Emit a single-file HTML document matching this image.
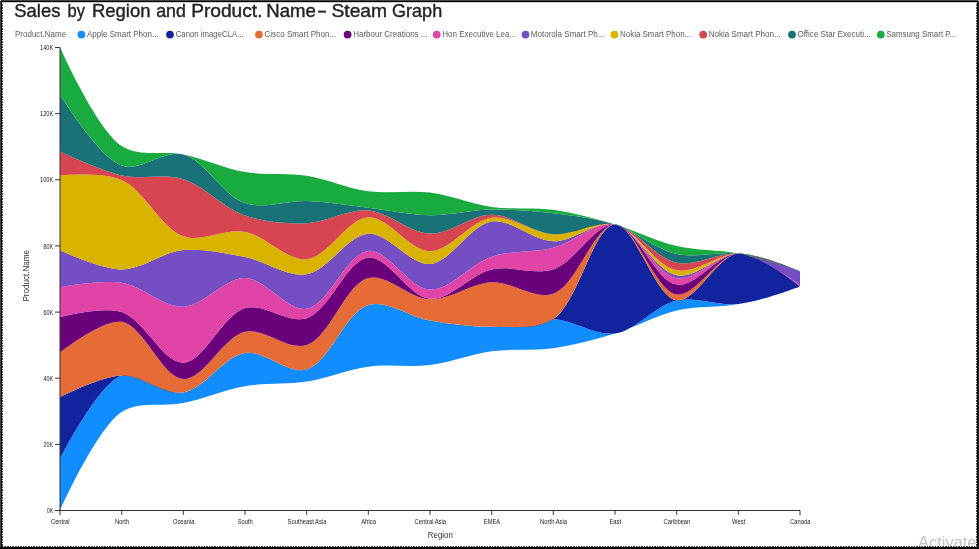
<!DOCTYPE html>
<html lang="en"><head><meta charset="utf-8"><title>Sales by Region and Product. Name- Steam Graph</title>
<style>
html,body{margin:0;padding:0;background:#fff;}
body{width:979px;height:549px;overflow:hidden;position:relative;font-family:"Liberation Sans",sans-serif;}
svg{position:absolute;left:0;top:0;display:block;}
.tt{font-family:"Liberation Sans",sans-serif;font-size:19px;fill:#252423;stroke:#252423;stroke-width:0.42px;}
.lg{font-family:"Liberation Sans",sans-serif;font-size:9.3px;fill:#5c5a58;}
.tk{font-family:"Liberation Sans",sans-serif;font-size:7px;fill:#222;}
.ax{font-family:"Liberation Sans",sans-serif;font-size:9.3px;fill:#333;}
.wm{font-family:"Liberation Sans",sans-serif;font-size:16px;fill:#c4c4c4;}
.b{position:absolute;}
</style></head><body>
<svg width="979" height="549" viewBox="0 0 979 549">
<g id="title">
<text y="16.6" class="tt"> <tspan x="14.2" textLength="46.2" lengthAdjust="spacingAndGlyphs">Sales</tspan> <tspan x="67.6" textLength="17.4" lengthAdjust="spacingAndGlyphs">by</tspan> <tspan x="91.9" textLength="58.6" lengthAdjust="spacingAndGlyphs">Region</tspan> <tspan x="156.2" textLength="29.7" lengthAdjust="spacingAndGlyphs">and</tspan> <tspan x="191.2" textLength="71.3" lengthAdjust="spacingAndGlyphs">Product.</tspan> <tspan x="266.3" textLength="49.6" lengthAdjust="spacingAndGlyphs">Name</tspan><tspan x="317.0" textLength="10.1" lengthAdjust="spacingAndGlyphs">-</tspan> <tspan x="331.4" textLength="55.8" lengthAdjust="spacingAndGlyphs">Steam</tspan> <tspan x="392.0" textLength="50.2" lengthAdjust="spacingAndGlyphs">Graph</tspan> </text>
</g>
<g id="legend">
<text x="15" y="37" textLength="51.2" lengthAdjust="spacingAndGlyphs" class="lg">Product.Name</text>
<circle cx="81.4" cy="34.6" r="3.9" fill="#118DFF"/>
<text x="86.9" y="37" textLength="71.8" lengthAdjust="spacingAndGlyphs" class="lg">Apple Smart Phon...</text>
<circle cx="170.0" cy="34.6" r="3.9" fill="#12239E"/>
<text x="175.7" y="37" textLength="68.0" lengthAdjust="spacingAndGlyphs" class="lg">Canon imageCLA...</text>
<circle cx="259.0" cy="34.6" r="3.9" fill="#E66C37"/>
<text x="264.5" y="37" textLength="71.7" lengthAdjust="spacingAndGlyphs" class="lg">Cisco Smart Phon...</text>
<circle cx="347.6" cy="34.6" r="3.9" fill="#6B007B"/>
<text x="353.2" y="37" textLength="74.3" lengthAdjust="spacingAndGlyphs" class="lg">Harbour Creations ...</text>
<circle cx="436.7" cy="34.6" r="3.9" fill="#E044A7"/>
<text x="442.2" y="37" textLength="74.0" lengthAdjust="spacingAndGlyphs" class="lg">Hon Executive Lea...</text>
<circle cx="525.5" cy="34.6" r="3.9" fill="#744EC2"/>
<text x="530.8" y="37" textLength="73.7" lengthAdjust="spacingAndGlyphs" class="lg">Motorola Smart Ph...</text>
<circle cx="614.4" cy="34.6" r="3.9" fill="#D9B300"/>
<text x="620.0" y="37" textLength="71.2" lengthAdjust="spacingAndGlyphs" class="lg">Nokia Smart Phon...</text>
<circle cx="703.2" cy="34.6" r="3.9" fill="#D64550"/>
<text x="708.8" y="37" textLength="71.9" lengthAdjust="spacingAndGlyphs" class="lg">Nokia Smart Phon...</text>
<circle cx="792.0" cy="34.6" r="3.9" fill="#197278"/>
<text x="797.5" y="37" textLength="73.2" lengthAdjust="spacingAndGlyphs" class="lg">Office Star Executi...</text>
<circle cx="880.8" cy="34.6" r="3.9" fill="#1AAB40"/>
<text x="886.3" y="37" textLength="69.9" lengthAdjust="spacingAndGlyphs" class="lg">Samsung Smart P...</text>
</g>
<g id="stream">
<path fill="#118DFF" d="M60.00,459.10C60.00,459.10,97.95,383.71,121.67,375.50C140.28,369.06,163.42,395.50,183.33,392.50C204.63,389.29,223.69,356.41,245.00,353.10C264.90,350.00,287.56,374.86,306.67,369.50C329.25,363.16,345.73,311.61,368.34,305.10C387.43,299.60,409.31,317.00,430.00,320.60C450.43,324.16,471.13,326.96,491.67,326.70C512.24,326.44,532.88,317.91,553.34,319.00C573.99,320.10,594.93,336.12,615.00,333.50C636.09,330.75,655.44,305.29,676.67,300.60C696.63,296.19,717.97,306.28,738.34,304.00C759.09,301.68,800.00,286.40,800.00,286.40L800.00,286.40C800.00,286.40,759.07,300.00,738.34,304.00C717.95,307.94,696.93,305.64,676.67,310.40C655.80,315.31,635.76,327.17,615.00,333.50C594.64,339.71,574.03,345.26,553.34,348.20C532.91,351.11,512.11,348.44,491.67,351.20C470.99,354.00,450.68,362.43,430.00,365.00C409.57,367.54,388.75,363.98,368.34,366.70C347.63,369.46,327.36,378.35,306.67,381.60C286.24,384.81,265.39,382.68,245.00,386.20C224.27,389.78,204.02,398.79,183.33,403.10C162.91,407.36,139.90,400.13,121.67,412.00C96.77,428.22,60.00,510.50,60.00,510.50Z"/>
<path fill="#12239E" d="M60.00,397.10C60.00,397.10,101.00,376.20,121.67,375.50C142.11,374.81,163.42,395.50,183.33,392.50C204.63,389.29,223.69,356.41,245.00,353.10C264.90,350.00,287.56,374.86,306.67,369.50C329.25,363.16,345.73,311.61,368.34,305.10C387.43,299.60,409.31,317.00,430.00,320.60C450.43,324.16,471.13,326.96,491.67,326.70C512.24,326.44,535.04,330.43,553.34,319.00C577.99,303.60,593.65,225.62,615.00,224.50C634.87,223.46,654.77,297.66,676.67,300.30C696.16,302.65,717.23,255.29,738.34,253.60C758.39,252.00,800.00,286.40,800.00,286.40L800.00,286.40C800.00,286.40,759.09,301.68,738.34,304.00C717.97,306.28,696.63,296.19,676.67,300.60C655.44,305.29,636.09,330.75,615.00,333.50C594.93,336.12,573.99,320.10,553.34,319.00C532.88,317.91,512.24,326.44,491.67,326.70C471.13,326.96,450.43,324.16,430.00,320.60C409.31,317.00,387.43,299.60,368.34,305.10C345.73,311.61,329.25,363.16,306.67,369.50C287.56,374.86,264.90,350.00,245.00,353.10C223.69,356.41,204.63,389.29,183.33,392.50C163.42,395.50,140.28,369.06,121.67,375.50C97.95,383.71,60.00,459.10,60.00,459.10Z"/>
<path fill="#E66C37" d="M60.00,352.40C60.00,352.40,102.05,318.95,121.67,321.80C143.36,324.95,162.36,378.12,183.33,379.10C203.50,380.04,223.25,336.58,245.00,331.70C264.59,327.31,287.68,351.12,306.67,345.10C329.49,337.87,345.75,283.71,368.34,278.00C387.44,273.17,409.35,298.66,430.00,299.30C450.46,299.94,471.01,283.07,491.67,282.20C512.12,281.33,534.43,300.25,553.34,293.80C576.33,285.95,594.48,224.45,615.00,224.50C635.59,224.55,654.78,291.60,676.67,294.50C696.17,297.08,717.48,254.61,738.34,253.60C758.60,252.62,800.00,286.40,800.00,286.40L800.00,286.40C800.00,286.40,758.39,252.00,738.34,253.60C717.23,255.29,696.16,302.65,676.67,300.30C654.77,297.66,634.87,223.46,615.00,224.50C593.65,225.62,577.99,303.60,553.34,319.00C535.04,330.43,512.24,326.44,491.67,326.70C471.13,326.96,450.43,324.16,430.00,320.60C409.31,317.00,387.43,299.60,368.34,305.10C345.73,311.61,329.25,363.16,306.67,369.50C287.56,374.86,264.90,350.00,245.00,353.10C223.69,356.41,204.63,389.29,183.33,392.50C163.42,395.50,142.11,374.81,121.67,375.50C101.00,376.20,60.00,397.10,60.00,397.10Z"/>
<path fill="#6B007B" d="M60.00,317.20C60.00,317.20,102.26,306.05,121.67,312.10C143.70,318.97,162.94,363.08,183.33,362.70C204.06,362.31,222.82,314.49,245.00,308.10C264.32,302.54,287.53,324.36,306.67,318.30C329.19,311.17,346.92,259.62,368.34,257.60C388.16,255.73,409.01,297.28,430.00,298.80C450.15,300.25,470.56,274.21,491.67,269.40C511.72,264.83,533.76,275.59,553.34,269.20C575.10,262.10,595.04,223.05,615.00,224.50C636.23,226.04,654.85,281.23,676.67,284.60C696.21,287.62,717.84,253.36,738.34,253.60C758.95,253.84,800.00,286.40,800.00,286.40L800.00,286.40C800.00,286.40,758.60,252.62,738.34,253.60C717.48,254.61,696.17,297.08,676.67,294.50C654.78,291.60,635.59,224.55,615.00,224.50C594.48,224.45,576.33,285.95,553.34,293.80C534.43,300.25,512.12,281.33,491.67,282.20C471.01,283.07,450.46,299.94,430.00,299.30C409.35,298.66,387.44,273.17,368.34,278.00C345.75,283.71,329.49,337.87,306.67,345.10C287.68,351.12,264.59,327.31,245.00,331.70C223.25,336.58,203.50,380.04,183.33,379.10C162.36,378.12,143.36,324.95,121.67,321.80C102.05,318.95,60.00,352.40,60.00,352.40Z"/>
<path fill="#E044A7" d="M60.00,287.10C60.00,287.10,101.45,279.65,121.67,282.70C142.58,285.86,162.91,307.34,183.33,306.70C204.03,306.05,224.51,277.82,245.00,278.10C265.63,278.39,287.06,311.68,306.67,308.80C328.39,305.61,346.95,252.98,368.34,250.90C388.18,248.97,409.23,288.87,430.00,289.60C450.35,290.32,470.49,263.64,491.67,256.70C511.67,250.15,533.06,253.03,553.34,247.80C574.19,242.42,595.44,220.99,615.00,224.50C636.79,228.41,654.93,274.50,676.67,278.20C696.26,281.53,718.00,252.64,738.34,253.60C759.12,254.58,800.00,285.20,800.00,285.20L800.00,286.40C800.00,286.40,758.95,253.84,738.34,253.60C717.84,253.36,696.21,287.62,676.67,284.60C654.85,281.23,636.23,226.04,615.00,224.50C595.04,223.05,575.10,262.10,553.34,269.20C533.76,275.59,511.72,264.83,491.67,269.40C470.56,274.21,450.15,300.25,430.00,298.80C409.01,297.28,388.16,255.73,368.34,257.60C346.92,259.62,329.19,311.17,306.67,318.30C287.53,324.36,264.32,302.54,245.00,308.10C222.82,314.49,204.06,362.31,183.33,362.70C162.94,363.08,143.70,318.97,121.67,312.10C102.26,306.05,60.00,317.20,60.00,317.20Z"/>
<path fill="#744EC2" d="M60.00,250.30C60.00,250.30,101.12,269.53,121.67,269.50C142.23,269.47,162.56,252.10,183.33,250.10C203.68,248.14,224.60,253.12,245.00,257.10C265.72,261.14,286.79,277.41,306.67,274.30C328.01,270.96,347.40,235.02,368.34,233.70C388.53,232.43,409.87,265.47,430.00,264.00C451.02,262.47,470.31,224.75,491.67,221.60C511.53,218.67,532.71,240.85,553.34,241.30C573.83,241.74,595.47,220.31,615.00,224.50C636.84,229.19,654.98,271.46,676.67,275.30C696.29,278.78,717.69,254.18,738.34,253.60C758.80,253.03,800.00,271.50,800.00,271.50L800.00,285.20C800.00,285.20,759.12,254.58,738.34,253.60C718.00,252.64,696.26,281.53,676.67,278.20C654.93,274.50,636.79,228.41,615.00,224.50C595.44,220.99,574.19,242.42,553.34,247.80C533.06,253.03,511.67,250.15,491.67,256.70C470.49,263.64,450.35,290.32,430.00,289.60C409.23,288.87,388.18,248.97,368.34,250.90C346.95,252.98,328.39,305.61,306.67,308.80C287.06,311.68,265.63,278.39,245.00,278.10C224.51,277.82,204.03,306.05,183.33,306.70C162.91,307.34,142.58,285.86,121.67,282.70C101.45,279.65,60.00,287.10,60.00,287.10Z"/>
<path fill="#D9B300" d="M60.00,175.40C60.00,175.40,102.44,171.62,121.67,179.90C144.01,189.52,160.99,228.42,183.33,236.20C202.56,242.90,224.87,228.37,245.00,231.90C266.02,235.59,286.61,261.02,306.67,259.20C327.77,257.28,347.47,218.18,368.34,217.20C388.60,216.25,409.43,251.12,430.00,251.20C450.54,251.28,470.60,220.30,491.67,217.80C511.76,215.41,532.67,233.13,553.34,234.20C573.78,235.26,595.40,219.69,615.00,224.50C636.74,229.84,655.08,266.11,676.67,270.20C696.36,273.93,717.80,253.43,738.34,253.60C758.92,253.77,800.00,271.30,800.00,271.30L800.00,271.50C800.00,271.50,758.80,253.03,738.34,253.60C717.69,254.18,696.29,278.78,676.67,275.30C654.98,271.46,636.84,229.19,615.00,224.50C595.47,220.31,573.83,241.74,553.34,241.30C532.71,240.85,511.53,218.67,491.67,221.60C470.31,224.75,451.02,262.47,430.00,264.00C409.87,265.47,388.53,232.43,368.34,233.70C347.40,235.02,328.01,270.96,306.67,274.30C286.79,277.41,265.72,261.14,245.00,257.10C224.60,253.12,203.68,248.14,183.33,250.10C162.56,252.10,142.23,269.47,121.67,269.50C101.12,269.53,60.00,250.30,60.00,250.30Z"/>
<path fill="#D64550" d="M60.00,151.60C60.00,151.60,100.75,170.92,121.67,175.50C141.88,179.93,163.48,173.23,183.33,179.30C204.70,185.83,223.67,208.36,245.00,215.60C264.88,222.35,286.18,224.02,306.67,223.20C327.29,222.37,348.00,208.92,368.34,210.50C389.13,212.12,409.34,232.97,430.00,233.60C450.45,234.22,471.13,214.61,491.67,214.70C512.24,214.79,532.60,232.64,553.34,234.20C573.71,235.73,595.16,220.49,615.00,224.50C636.39,228.82,655.27,258.27,676.67,262.70C696.50,266.80,717.93,252.26,738.34,253.60C759.04,254.96,800.00,271.20,800.00,271.20L800.00,271.30C800.00,271.30,758.92,253.77,738.34,253.60C717.80,253.43,696.36,273.93,676.67,270.20C655.08,266.11,636.74,229.84,615.00,224.50C595.40,219.69,573.78,235.26,553.34,234.20C532.67,233.13,511.76,215.41,491.67,217.80C470.60,220.30,450.54,251.28,430.00,251.20C409.43,251.12,388.60,216.25,368.34,217.20C347.47,218.18,327.77,257.28,306.67,259.20C286.61,261.02,266.02,235.59,245.00,231.90C224.87,228.37,202.56,242.90,183.33,236.20C160.99,228.42,144.01,189.52,121.67,179.90C102.44,171.62,60.00,175.40,60.00,175.40Z"/>
<path fill="#197278" d="M60.00,94.40C60.00,94.40,98.56,157.24,121.67,165.40C140.52,172.06,163.82,149.50,183.33,154.40C205.19,159.89,223.04,195.89,245.00,203.10C264.46,209.49,286.14,200.24,306.67,201.00C327.25,201.76,347.79,205.33,368.34,207.70C388.90,210.07,409.43,214.89,430.00,215.20C450.54,215.51,471.10,209.93,491.67,209.60C512.21,209.27,532.86,210.74,553.34,213.20C573.97,215.68,594.87,217.97,615.00,224.50C636.02,231.32,655.56,249.28,676.67,254.00C696.72,258.48,717.98,250.83,738.34,253.60C759.10,256.42,800.00,271.10,800.00,271.10L800.00,271.20C800.00,271.20,759.04,254.96,738.34,253.60C717.93,252.26,696.50,266.80,676.67,262.70C655.27,258.27,636.39,228.82,615.00,224.50C595.16,220.49,573.71,235.73,553.34,234.20C532.60,232.64,512.24,214.79,491.67,214.70C471.13,214.61,450.45,234.22,430.00,233.60C409.34,232.97,389.13,212.12,368.34,210.50C348.00,208.92,327.29,222.37,306.67,223.20C286.18,224.02,264.88,222.35,245.00,215.60C223.67,208.36,204.70,185.83,183.33,179.30C163.48,173.23,141.88,179.93,121.67,175.50C100.75,170.92,60.00,151.60,60.00,151.60Z"/>
<path fill="#1AAB40" d="M60.00,47.30C60.00,47.30,96.75,129.89,121.67,146.00C139.89,157.78,162.93,150.12,183.33,154.40C204.05,158.74,224.25,168.46,245.00,172.00C265.37,175.47,286.26,172.54,306.67,175.70C327.38,178.91,347.62,188.50,368.34,191.30C388.73,194.06,409.58,190.03,430.00,192.60C450.69,195.21,470.98,204.14,491.67,207.00C512.10,209.82,532.92,206.93,553.34,209.80C574.03,212.71,594.60,218.53,615.00,224.50C635.71,230.56,655.85,241.15,676.67,246.00C696.98,250.73,717.93,249.51,738.34,253.60C759.05,257.76,800.00,270.90,800.00,270.90L800.00,271.10C800.00,271.10,759.10,256.42,738.34,253.60C717.98,250.83,696.72,258.48,676.67,254.00C655.56,249.28,636.02,231.32,615.00,224.50C594.87,217.97,573.97,215.68,553.34,213.20C532.86,210.74,512.21,209.27,491.67,209.60C471.10,209.93,450.54,215.51,430.00,215.20C409.43,214.89,388.90,210.07,368.34,207.70C347.79,205.33,327.25,201.76,306.67,201.00C286.14,200.24,264.46,209.49,245.00,203.10C223.04,195.89,205.19,159.89,183.33,154.40C163.82,149.50,140.52,172.06,121.67,165.40C98.56,157.24,60.00,94.40,60.00,94.40Z"/>
</g>
<g id="axes">
<path d="M55,47.5H60V510.5H55" fill="none" stroke="#333" stroke-width="1"/>
<text x="46.8" y="513.1" textLength="6.4" lengthAdjust="spacingAndGlyphs" class="tk">0K</text>
<path d="M55,444.4H60" stroke="#333" stroke-width="1"/>
<text x="43.6" y="447.0" textLength="9.6" lengthAdjust="spacingAndGlyphs" class="tk">20K</text>
<path d="M55,378.2H60" stroke="#333" stroke-width="1"/>
<text x="43.6" y="380.8" textLength="9.6" lengthAdjust="spacingAndGlyphs" class="tk">40K</text>
<path d="M55,312.1H60" stroke="#333" stroke-width="1"/>
<text x="43.6" y="314.7" textLength="9.6" lengthAdjust="spacingAndGlyphs" class="tk">60K</text>
<path d="M55,245.9H60" stroke="#333" stroke-width="1"/>
<text x="43.6" y="248.5" textLength="9.6" lengthAdjust="spacingAndGlyphs" class="tk">80K</text>
<path d="M55,179.8H60" stroke="#333" stroke-width="1"/>
<text x="40.1" y="182.4" textLength="13.1" lengthAdjust="spacingAndGlyphs" class="tk">100K</text>
<path d="M55,113.6H60" stroke="#333" stroke-width="1"/>
<text x="40.1" y="116.2" textLength="13.1" lengthAdjust="spacingAndGlyphs" class="tk">120K</text>
<text x="40.1" y="50.1" textLength="13.1" lengthAdjust="spacingAndGlyphs" class="tk">140K</text>
<path d="M60,515.3V510.5H800V515.3" fill="none" stroke="#333" stroke-width="1"/>
<text x="51.0" y="524" textLength="18.6" lengthAdjust="spacingAndGlyphs" class="tk">Central</text>
<path d="M121.7,510.5V514.8" stroke="#333" stroke-width="1"/>
<text x="114.9" y="524" textLength="14.1" lengthAdjust="spacingAndGlyphs" class="tk">North</text>
<path d="M183.3,510.5V514.8" stroke="#333" stroke-width="1"/>
<text x="172.9" y="524" textLength="21.5" lengthAdjust="spacingAndGlyphs" class="tk">Oceania</text>
<path d="M245.0,510.5V514.8" stroke="#333" stroke-width="1"/>
<text x="237.7" y="524" textLength="15.1" lengthAdjust="spacingAndGlyphs" class="tk">South</text>
<path d="M306.7,510.5V514.8" stroke="#333" stroke-width="1"/>
<text x="287.5" y="524" textLength="38.9" lengthAdjust="spacingAndGlyphs" class="tk">Southeast Asia</text>
<path d="M368.3,510.5V514.8" stroke="#333" stroke-width="1"/>
<text x="361.2" y="524" textLength="14.8" lengthAdjust="spacingAndGlyphs" class="tk">Africa</text>
<path d="M430.0,510.5V514.8" stroke="#333" stroke-width="1"/>
<text x="414.6" y="524" textLength="31.5" lengthAdjust="spacingAndGlyphs" class="tk">Central Asia</text>
<path d="M491.7,510.5V514.8" stroke="#333" stroke-width="1"/>
<text x="483.8" y="524" textLength="16.4" lengthAdjust="spacingAndGlyphs" class="tk">EMEA</text>
<path d="M553.3,510.5V514.8" stroke="#333" stroke-width="1"/>
<text x="540.1" y="524" textLength="27.0" lengthAdjust="spacingAndGlyphs" class="tk">North Asia</text>
<path d="M615.0,510.5V514.8" stroke="#333" stroke-width="1"/>
<text x="609.5" y="524" textLength="11.6" lengthAdjust="spacingAndGlyphs" class="tk">East</text>
<path d="M676.7,510.5V514.8" stroke="#333" stroke-width="1"/>
<text x="663.6" y="524" textLength="26.7" lengthAdjust="spacingAndGlyphs" class="tk">Caribbean</text>
<path d="M738.3,510.5V514.8" stroke="#333" stroke-width="1"/>
<text x="732.1" y="524" textLength="13.2" lengthAdjust="spacingAndGlyphs" class="tk">West</text>
<text x="790.2" y="524" textLength="20.2" lengthAdjust="spacingAndGlyphs" class="tk">Canada</text>
<text x="427.8" y="538.4" textLength="25" lengthAdjust="spacingAndGlyphs" class="ax">Region</text>
<text transform="translate(29.2,301.6) rotate(-90)" textLength="51.6" lengthAdjust="spacingAndGlyphs" class="ax">Product.Name</text>
</g>
<text x="918" y="547.6" textLength="58.5" lengthAdjust="spacingAndGlyphs" class="wm">Activate</text>
</svg>
<div class="b" style="left:2px;top:2px;width:1px;height:545px;background:repeating-linear-gradient(to bottom,#444 0,#444 1.3px,#fff 1.6px,#fff 2.3px,#444 2.62px);"></div>
<div class="b" style="left:976px;top:2px;width:1px;height:545px;background:repeating-linear-gradient(to bottom,#444 0,#444 1.3px,#fff 1.6px,#fff 2.3px,#444 2.62px);"></div>
<div class="b" style="left:2px;top:546px;width:975px;height:1px;background:repeating-linear-gradient(to right,#444 0,#444 1.3px,#fff 1.6px,#fff 2.3px,#444 2.62px);"></div>
<div class="b" style="left:0;top:2px;width:979px;height:1px;background:#d0d0d0;"></div>
<div class="b" style="left:0;top:0;width:979px;height:1px;background:#444;"></div>
<div class="b" style="left:0;top:1px;width:979px;height:1px;background:#000;"></div>
<div class="b" style="left:0;top:1px;width:1px;height:548px;background:#444;"></div>
<div class="b" style="left:1px;top:1px;width:1px;height:548px;background:#000;"></div>
<div class="b" style="left:977px;top:1px;width:1px;height:548px;background:#000;"></div>
<div class="b" style="left:978px;top:1px;width:1px;height:548px;background:#222;"></div>
<div class="b" style="left:0;top:547px;width:979px;height:2px;background:#000;"></div>
<div class="b" style="left:0;top:0;width:1px;height:1px;background:#bbb;"></div>
<div class="b" style="left:978px;top:0;width:1px;height:1px;background:#ccc;"></div>
</body></html>
